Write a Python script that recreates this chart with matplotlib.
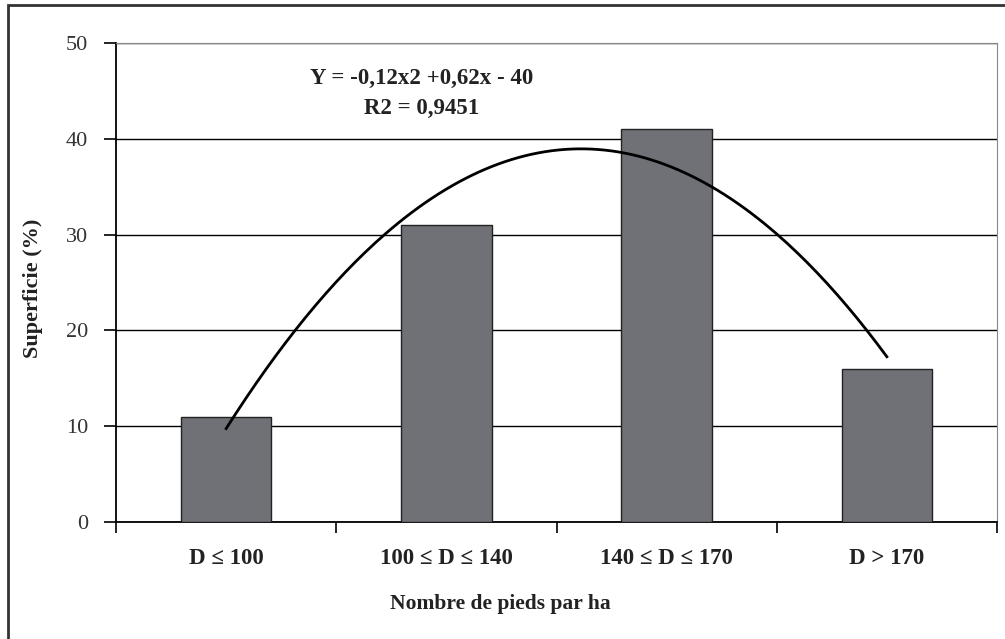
import numpy as np
import matplotlib
matplotlib.use("Agg")
import matplotlib.pyplot as plt
from matplotlib.patches import Rectangle

categories = ["D ≤ 100", "100 ≤ D ≤ 140", "140 ≤ D ≤ 170", "D > 170"]
values = [11, 31, 41, 16]
y_ticks = [0, 10, 20, 30, 40, 50]
equation = "Y = -0,12x2 +0,62x - 40"
r2_text = "R2 = 0,9451"
xlabel = "Nombre de pieds par ha"
ylabel = "Superficie (%)"

plt.rcParams['font.family'] = ['Liberation Serif', 'DejaVu Serif']

fig = plt.figure(figsize=(10.05, 6.39), dpi=100)
W, H = 1005, 639
# outer frame
fig.patches.append(Rectangle((8 / W, -0.05), 1.2, (634 / H) + 0.05,
                             transform=fig.transFigure, fill=False,
                             edgecolor='#333333', linewidth=2.0))

ax = fig.add_axes([116 / W, 1 - 522 / H, (997 - 116) / W, (522 - 43) / H])
x = np.arange(1, len(values) + 1)
ax.bar(x, values, width=0.41, color='#707176', edgecolor='#222222',
       linewidth=1.0, zorder=3)

# quadratic trend line fitted to the bar values
coef = np.polyfit(x, values, 2)
xs = np.linspace(1, 4, 200)
ax.plot(xs, np.polyval(coef, xs), color='black', linewidth=2.0, zorder=4)

ax.set_xlim(0.5, 4.5)
ax.set_ylim(0, 50)
ax.set_yticks(y_ticks)
ax.set_yticklabels([str(t) for t in y_ticks], fontsize=16, color='#333333')
ax.yaxis.grid(True, color='black', linewidth=1.0, zorder=1)
ax.set_axisbelow(True)

ax.set_xticks([0.5, 1.5, 2.5, 3.5, 4.5])
ax.set_xticklabels([])
ax.tick_params(axis='x', direction='out', length=8, width=1.2, color='black')
ax.tick_params(axis='y', direction='out', length=9, width=1.2, color='black', pad=11)
for xi, lab in zip(x, categories):
    ax.text(xi, (522 - 558) / 9.58, lab, ha='center', va='center', fontsize=16.5,
            fontweight='bold', color='#222222', transform=ax.transData)

ax.spines['left'].set_color('black')
ax.spines['left'].set_linewidth(1.3)
ax.spines['bottom'].set_color('black')
ax.spines['bottom'].set_linewidth(1.3)
ax.spines['top'].set_color('#888888')
ax.spines['right'].set_color('#888888')

fig.text(422 / W, 1 - 78 / H, equation, ha='center', va='center',
         fontsize=16.5, fontweight='bold', color='#222222')
fig.text(422 / W, 1 - 108 / H, r2_text, ha='center', va='center',
         fontsize=16.5, fontweight='bold', color='#222222')

fig.text(500 / W, 1 - 604 / H, xlabel, ha='center', va='center',
         fontsize=15.5, fontweight='bold', color='#222222')
fig.text(33 / W, 1 - 288 / H, ylabel, ha='center', va='center', rotation=90,
         fontsize=16, fontweight='bold', color='#222222')

fig.savefig("out.png", dpi=100)
